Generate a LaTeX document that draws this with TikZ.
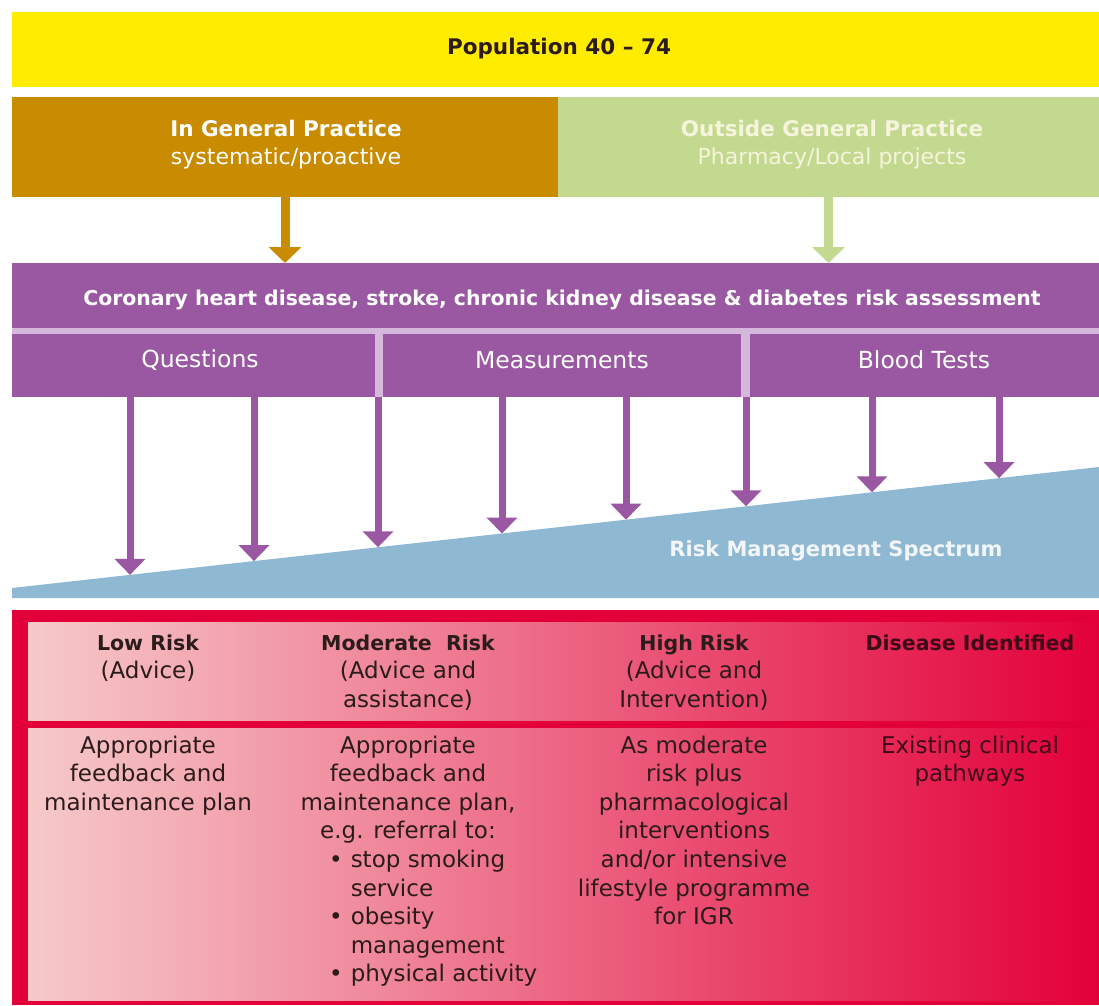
\documentclass[tikz,border=0pt]{standalone}
\usepackage{fontspec}
\setmainfont{DejaVu Sans}
\usetikzlibrary{arrows.meta}
\definecolor{popy}{HTML}{FFEC00}
\definecolor{gpor}{HTML}{C98B00}
\definecolor{ogpg}{HTML}{C3D98F}
\definecolor{cream}{HTML}{F7F4DE}
\definecolor{purp}{HTML}{9A58A3}
\definecolor{lav}{HTML}{D6B8DD}
\definecolor{spec}{HTML}{8FB8D3}
\definecolor{spectxt}{HTML}{F2F6F9}
\definecolor{redc}{HTML}{E3003A}
\definecolor{pinkL}{HTML}{F6CACA}
\definecolor{salm}{HTML}{EE7A80}
\definecolor{ink}{HTML}{2B1B1B}
\definecolor{inkR}{HTML}{3E0A18}
\newcommand{\rcol}[1]{\begin{tabular}[t]{@{}c@{}}#1\end{tabular}}
\begin{document}
\begin{tikzpicture}[x=1pt,y=-1pt,
  rect/.style={draw=none,inner sep=0pt,outer sep=0pt,anchor=north west},
  txt/.style={inner sep=0pt,align=center},
  oar/.style={-{Triangle[length=16pt,width=32pt]},line width=9pt},
  par/.style={purp,-{Triangle[length=16pt,width=30pt]},line width=7pt},
  panel/.style={rect,left color=pinkL,middle color=salm,right color=redc},
  rfont/.style={font=\fontsize{23}{28.6}\selectfont,text=ink},
  rtxt/.style={inner sep=0pt,anchor=base,rfont},
]
\useasboundingbox (0,0) rectangle (1099,1005);
\fill[white] (0,0) rectangle (1099,1005);
% population
\node[rect,fill=popy,minimum width=1087pt,minimum height=75pt] (pop) at (12,12) {};
\node[txt,font=\bfseries\fontsize{21.5}{26}\selectfont,text=ink] (popt) at (559,49) {Population 40 – 74};
% settings
\node[rect,fill=gpor,minimum width=546pt,minimum height=100pt] (gp) at (12,97) {};
\node[txt,text=white,font=\fontsize{22}{28}\selectfont] (gpt) at (286,145) {{\bfseries\fontsize{21.5}{28}\selectfont In General Practice}\\systematic/proactive};
\node[rect,fill=ogpg,minimum width=541pt,minimum height=100pt] (ogp) at (558,97) {};
\node[txt,text=cream,font=\fontsize{22}{28}\selectfont] (ogpt) at (832,145) {{\bfseries\fontsize{21.5}{28}\selectfont Outside General Practice}\\Pharmacy/Local projects};
% risk assessment
\node[rect,fill=purp,minimum width=1087pt,minimum height=65pt] (ra) at (12,263) {};
\node[txt,text=white,font=\bfseries\fontsize{20.4}{24}\selectfont] (rat) at (562,300) {Coronary heart disease, stroke, chronic kidney disease \& diabetes risk assessment};
\fill[lav] (12,328) rectangle (1099,397);
\node[rect,fill=purp,minimum width=363pt,minimum height=63pt] (q) at (12,334) {};
\node[rect,fill=purp,minimum width=358pt,minimum height=63pt] (m) at (383,334) {};
\node[rect,fill=purp,minimum width=349pt,minimum height=63pt] (bt) at (750,334) {};
\node[txt,text=white,font=\fontsize{23.5}{26}\selectfont] (qt) at (200,360) {Questions};
\node[txt,text=white,font=\fontsize{23.5}{26}\selectfont] (mt) at (562,360) {Measurements};
\node[txt,text=white,font=\fontsize{23.5}{26}\selectfont] (btt) at (924,360) {Blood Tests};
% arrows from settings
\draw[oar,gpor] (gp.south) -- (gp.south |- ra.north);
\draw[oar,ogpg] (ogp.south) -- (ogp.south |- ra.north);
% spectrum
\fill[spec] (12,598) -- (12,588) -- (1099,467) -- (1099,598) -- cycle;
\node[txt,text=spectxt,font=\bfseries\fontsize{21}{26}\selectfont] (spt) at (836,551) {Risk Management Spectrum};
\foreach \i/\x/\y in {1/130/574.9,2/254/561.1,3/378/547.3,4/502/533.5,5/626/519.7,6/746/506.3,7/872/492.3,8/999/478.1}{
  \coordinate (t\i) at (\x,\y);
  \draw[par] (t\i |- q.south) -- (t\i);
}
% risk table
\fill[redc] (12,610) rectangle (1099,1005);
\node[panel,minimum width=1071pt,minimum height=98pt] (hdr) at (28,622) {};
\node[panel,minimum width=1071pt,minimum height=272pt] (body) at (28,728) {};
\node[rtxt] (lr) at (148,650) {\rcol{{\bfseries\fontsize{20.5}{28.6}\selectfont Low Risk}\\(Advice)}};
\node[rtxt] (mr) at (408,650) {\rcol{{\bfseries\fontsize{20.5}{28.6}\selectfont Moderate\ \ Risk}\\(Advice and\\assistance)}};
\node[rtxt] (hr) at (694,650) {\rcol{{\bfseries\fontsize{20.5}{28.6}\selectfont High Risk}\\(Advice and\\Intervention)}};
\node[rtxt,text=inkR] (di) at (970,650) {\rcol{{\bfseries\fontsize{20.5}{28.6}\selectfont Disease Identified}}};
\node[rtxt] (la) at (148,753) {\rcol{Appropriate\\feedback and\\maintenance plan}};
\node[rtxt] (ma) at (408,753) {\rcol{Appropriate\\feedback and\\maintenance plan,\\e.g. referral to:}};
\node[rtxt,anchor=base west] (mb) at (329,867.4) {\begin{tabular}[t]{@{}l@{\hspace{8pt}}l@{}}\textbullet & stop smoking\\ & service\\ \textbullet & obesity\\ & management\\ \textbullet & physical activity\end{tabular}};
\node[rtxt] (ha) at (694,753) {\rcol{As moderate\\risk plus\\pharmacological\\interventions\\and/or intensive\\lifestyle programme\\for IGR}};
\node[rtxt,text=inkR] (da) at (970,753) {\rcol{Existing clinical\\pathways}};
\end{tikzpicture}
\end{document}
